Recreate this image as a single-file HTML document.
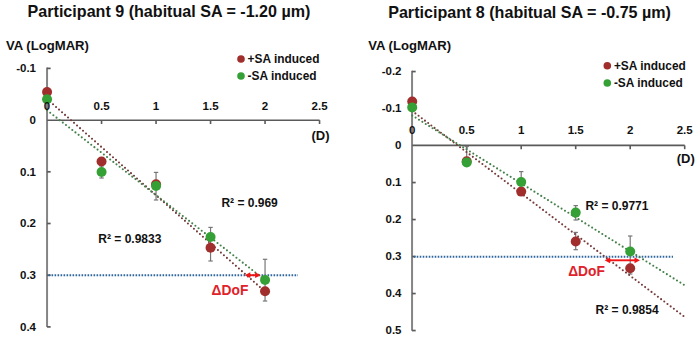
<!DOCTYPE html>
<html><head><meta charset="utf-8"><style>
html,body{margin:0;padding:0;background:#fff;}
svg{display:block;}
text{font-family:"Liberation Sans",sans-serif;font-weight:bold;}
</style></head><body>
<svg width="700" height="340" viewBox="0 0 700 340">
<rect width="700" height="340" fill="#fff"/>
<line x1="47.05" y1="67.6" x2="47.05" y2="327.1" stroke="#858585" stroke-width="2" />
<line x1="47.05" y1="120.2" x2="319.55" y2="120.2" stroke="#5a5a5a" stroke-width="1.6" />
<line x1="47.05" y1="68.39999999999999" x2="50.65" y2="68.39999999999999" stroke="#5a5a5a" stroke-width="1.7" />
<line x1="47.05" y1="171.8" x2="50.65" y2="171.8" stroke="#5a5a5a" stroke-width="1.7" />
<line x1="47.05" y1="223.5" x2="50.65" y2="223.5" stroke="#5a5a5a" stroke-width="1.7" />
<line x1="47.05" y1="275.2" x2="50.65" y2="275.2" stroke="#5a5a5a" stroke-width="1.7" />
<line x1="47.05" y1="326.90000000000003" x2="50.65" y2="326.90000000000003" stroke="#5a5a5a" stroke-width="1.7" />
<line x1="101.55" y1="120.2" x2="101.55" y2="124" stroke="#5a5a5a" stroke-width="1.6" />
<line x1="156.05" y1="120.2" x2="156.05" y2="124" stroke="#5a5a5a" stroke-width="1.6" />
<line x1="210.55" y1="120.2" x2="210.55" y2="124" stroke="#5a5a5a" stroke-width="1.6" />
<line x1="265.05" y1="120.2" x2="265.05" y2="124" stroke="#5a5a5a" stroke-width="1.6" />
<line x1="319.55" y1="120.2" x2="319.55" y2="124" stroke="#5a5a5a" stroke-width="1.6" />
<line x1="48.55" y1="275.2" x2="298" y2="275.2" stroke="#2d659c" stroke-width="2" stroke-dasharray="1.6 1.4"/>
<line x1="101.55" y1="166" x2="101.55" y2="178" stroke="#777777" stroke-width="1.2" />
<line x1="99.35" y1="166" x2="103.75" y2="166" stroke="#777777" stroke-width="1.2" />
<line x1="99.35" y1="178" x2="103.75" y2="178" stroke="#777777" stroke-width="1.2" />
<line x1="156.05" y1="172.4" x2="156.05" y2="200" stroke="#777777" stroke-width="1.2" />
<line x1="153.85000000000002" y1="172.4" x2="158.25" y2="172.4" stroke="#777777" stroke-width="1.2" />
<line x1="153.85000000000002" y1="200" x2="158.25" y2="200" stroke="#777777" stroke-width="1.2" />
<line x1="210.55" y1="227.4" x2="210.55" y2="261" stroke="#777777" stroke-width="1.2" />
<line x1="208.35000000000002" y1="227.4" x2="212.75" y2="227.4" stroke="#777777" stroke-width="1.2" />
<line x1="208.35000000000002" y1="261" x2="212.75" y2="261" stroke="#777777" stroke-width="1.2" />
<line x1="265.05" y1="259.3" x2="265.05" y2="301" stroke="#777777" stroke-width="1.2" />
<line x1="262.85" y1="259.3" x2="267.25" y2="259.3" stroke="#777777" stroke-width="1.2" />
<line x1="262.85" y1="301" x2="267.25" y2="301" stroke="#777777" stroke-width="1.2" />
<line x1="47.05" y1="99.0" x2="265.05" y2="291.6" stroke="#763c3c" stroke-width="2.1" stroke-dasharray="0 4" stroke-linecap="round"/>
<line x1="47.05" y1="110.3" x2="265.05" y2="280" stroke="#44804a" stroke-width="2.1" stroke-dasharray="0 4" stroke-linecap="round"/>
<circle cx="47.05" cy="92.0" r="5" fill="#a02e2c"/>
<circle cx="101.55" cy="161.5" r="5" fill="#a02e2c"/>
<circle cx="156.05" cy="184.3" r="5" fill="#a02e2c"/>
<circle cx="210.55" cy="247.8" r="5" fill="#a02e2c"/>
<circle cx="265.05" cy="291.3" r="5" fill="#a02e2c"/>
<circle cx="47.05" cy="99.3" r="5" fill="#35a035"/>
<circle cx="101.55" cy="172" r="5" fill="#35a035"/>
<circle cx="156.05" cy="186" r="5" fill="#35a035"/>
<circle cx="210.55" cy="237" r="5" fill="#35a035"/>
<circle cx="265.05" cy="280" r="5" fill="#35a035"/>
<circle cx="241" cy="59" r="3.8" fill="#a02e2c"/>
<circle cx="241" cy="76" r="3.8" fill="#35a035"/>
<line x1="247.8" y1="275.2" x2="257.6" y2="275.2" stroke="#f01414" stroke-width="1.9" />
<path d="M244.8 275.2 L250.3 272.3 L250.3 278.09999999999997 Z" fill="#f01414"/>
<path d="M260.6 275.2 L255.10000000000002 272.3 L255.10000000000002 278.09999999999997 Z" fill="#f01414"/>
<line x1="412.05" y1="70.75" x2="412.05" y2="330.75" stroke="#858585" stroke-width="2" />
<line x1="412.2" y1="145.4" x2="684.7" y2="145.4" stroke="#5a5a5a" stroke-width="1.6" />
<line x1="412.05" y1="71.55" x2="415.7" y2="71.55" stroke="#5a5a5a" stroke-width="1.7" />
<line x1="412.05" y1="108.55" x2="415.7" y2="108.55" stroke="#5a5a5a" stroke-width="1.7" />
<line x1="412.05" y1="182.55" x2="415.7" y2="182.55" stroke="#5a5a5a" stroke-width="1.7" />
<line x1="412.05" y1="219.55" x2="415.7" y2="219.55" stroke="#5a5a5a" stroke-width="1.7" />
<line x1="412.05" y1="256.55" x2="415.7" y2="256.55" stroke="#5a5a5a" stroke-width="1.7" />
<line x1="412.05" y1="293.55" x2="415.7" y2="293.55" stroke="#5a5a5a" stroke-width="1.7" />
<line x1="412.05" y1="330.55" x2="415.7" y2="330.55" stroke="#5a5a5a" stroke-width="1.7" />
<line x1="466.7" y1="145.4" x2="466.7" y2="149.2" stroke="#5a5a5a" stroke-width="1.6" />
<line x1="521.2" y1="145.4" x2="521.2" y2="149.2" stroke="#5a5a5a" stroke-width="1.6" />
<line x1="575.7" y1="145.4" x2="575.7" y2="149.2" stroke="#5a5a5a" stroke-width="1.6" />
<line x1="630.2" y1="145.4" x2="630.2" y2="149.2" stroke="#5a5a5a" stroke-width="1.6" />
<line x1="684.7" y1="145.4" x2="684.7" y2="149.2" stroke="#5a5a5a" stroke-width="1.6" />
<line x1="413.7" y1="256.8" x2="673" y2="256.8" stroke="#2d659c" stroke-width="2" stroke-dasharray="1.6 1.4"/>
<line x1="466.7" y1="146.5" x2="466.7" y2="165" stroke="#777777" stroke-width="1.2" />
<line x1="464.5" y1="146.5" x2="468.9" y2="146.5" stroke="#777777" stroke-width="1.2" />
<line x1="464.5" y1="165" x2="468.9" y2="165" stroke="#777777" stroke-width="1.2" />
<line x1="521.2" y1="171.6" x2="521.2" y2="190" stroke="#777777" stroke-width="1.2" />
<line x1="519.0" y1="171.6" x2="523.4000000000001" y2="171.6" stroke="#777777" stroke-width="1.2" />
<line x1="519.0" y1="190" x2="523.4000000000001" y2="190" stroke="#777777" stroke-width="1.2" />
<line x1="575.7" y1="205.6" x2="575.7" y2="220" stroke="#777777" stroke-width="1.2" />
<line x1="573.5" y1="205.6" x2="577.9000000000001" y2="205.6" stroke="#777777" stroke-width="1.2" />
<line x1="573.5" y1="220" x2="577.9000000000001" y2="220" stroke="#777777" stroke-width="1.2" />
<line x1="575.7" y1="232.4" x2="575.7" y2="249.7" stroke="#777777" stroke-width="1.2" />
<line x1="573.5" y1="232.4" x2="577.9000000000001" y2="232.4" stroke="#777777" stroke-width="1.2" />
<line x1="573.5" y1="249.7" x2="577.9000000000001" y2="249.7" stroke="#777777" stroke-width="1.2" />
<line x1="630.2" y1="236" x2="630.2" y2="274" stroke="#777777" stroke-width="1.2" />
<line x1="628.0" y1="236" x2="632.4000000000001" y2="236" stroke="#777777" stroke-width="1.2" />
<line x1="628.0" y1="274" x2="632.4000000000001" y2="274" stroke="#777777" stroke-width="1.2" />
<line x1="412.2" y1="111" x2="684.7" y2="317" stroke="#763c3c" stroke-width="2.1" stroke-dasharray="0 4" stroke-linecap="round"/>
<line x1="412.2" y1="115.5" x2="684.7" y2="285.3" stroke="#44804a" stroke-width="2.1" stroke-dasharray="0 4" stroke-linecap="round"/>
<circle cx="412.2" cy="101.5" r="5" fill="#a02e2c"/>
<circle cx="466.7" cy="161.3" r="5" fill="#a02e2c"/>
<circle cx="521.2" cy="191.6" r="5" fill="#a02e2c"/>
<circle cx="575.7" cy="241.5" r="5" fill="#a02e2c"/>
<circle cx="630.2" cy="268.2" r="5" fill="#a02e2c"/>
<circle cx="412.2" cy="107.4" r="5" fill="#35a035"/>
<circle cx="466.7" cy="162.4" r="5" fill="#35a035"/>
<circle cx="521.2" cy="182" r="5" fill="#35a035"/>
<circle cx="575.7" cy="212.6" r="5" fill="#35a035"/>
<circle cx="630.2" cy="251.5" r="5" fill="#35a035"/>
<circle cx="607.3" cy="65.7" r="3.8" fill="#a02e2c"/>
<circle cx="607.3" cy="83" r="3.8" fill="#35a035"/>
<line x1="607.6" y1="260.3" x2="637" y2="260.3" stroke="#f01414" stroke-width="1.9" />
<path d="M604.6 260.3 L610.1 257.40000000000003 L610.1 263.2 Z" fill="#f01414"/>
<path d="M640 260.3 L634.5 257.40000000000003 L634.5 263.2 Z" fill="#f01414"/>
<text x="27.6" y="17" font-size="16.1" text-anchor="start" fill="#111111" >Participant 9 (habitual SA = -1.20 µm)</text>
<text x="6" y="49.8" font-size="13.1" text-anchor="start" fill="#111111" >VA (LogMAR)</text>
<text x="36" y="72.3" font-size="11.5" text-anchor="end" fill="#111111" >-0.1</text>
<text x="36" y="124.0" font-size="11.5" text-anchor="end" fill="#111111" >0</text>
<text x="36" y="175.7" font-size="11.5" text-anchor="end" fill="#111111" >0.1</text>
<text x="36" y="227.39999999999998" font-size="11.5" text-anchor="end" fill="#111111" >0.2</text>
<text x="36" y="279.09999999999997" font-size="11.5" text-anchor="end" fill="#111111" >0.3</text>
<text x="36" y="330.8" font-size="11.5" text-anchor="end" fill="#111111" >0.4</text>
<text x="47.05" y="109.7" font-size="11.5" text-anchor="middle" fill="#111111" >0</text>
<text x="101.55" y="109.7" font-size="11.5" text-anchor="middle" fill="#111111" >0.5</text>
<text x="156.05" y="109.7" font-size="11.5" text-anchor="middle" fill="#111111" >1</text>
<text x="210.55" y="109.7" font-size="11.5" text-anchor="middle" fill="#111111" >1.5</text>
<text x="265.05" y="109.7" font-size="11.5" text-anchor="middle" fill="#111111" >2</text>
<text x="319.55" y="109.7" font-size="11.5" text-anchor="middle" fill="#111111" >2.5</text>
<text x="320.55" y="139.5" font-size="13" text-anchor="middle" fill="#111111" >(D)</text>
<text x="247.6" y="63" font-size="11.9" text-anchor="start" fill="#111111" >+SA induced</text>
<text x="247.6" y="80" font-size="11.9" text-anchor="start" fill="#111111" >-SA induced</text>
<text x="221.4" y="206.7" font-size="12" text-anchor="start" fill="#111111" >R² = 0.969</text>
<text x="98.3" y="243.4" font-size="12" text-anchor="start" fill="#111111" >R² = 0.9833</text>
<text x="211.6" y="294.7" font-size="13.8" text-anchor="start" fill="#e0222a" >ΔDoF</text>
<text x="388.2" y="18" font-size="16.1" text-anchor="start" fill="#111111" >Participant 8 (habitual SA = -0.75 µm)</text>
<text x="368.2" y="49.8" font-size="13.1" text-anchor="start" fill="#111111" >VA (LogMAR)</text>
<text x="401.5" y="75.05" font-size="11.5" text-anchor="end" fill="#111111" >-0.2</text>
<text x="401.5" y="112.05" font-size="11.5" text-anchor="end" fill="#111111" >-0.1</text>
<text x="401.5" y="149.05" font-size="11.5" text-anchor="end" fill="#111111" >0</text>
<text x="401.5" y="186.05" font-size="11.5" text-anchor="end" fill="#111111" >0.1</text>
<text x="401.5" y="223.05" font-size="11.5" text-anchor="end" fill="#111111" >0.2</text>
<text x="401.5" y="260.05" font-size="11.5" text-anchor="end" fill="#111111" >0.3</text>
<text x="401.5" y="297.05" font-size="11.5" text-anchor="end" fill="#111111" >0.4</text>
<text x="401.5" y="334.05" font-size="11.5" text-anchor="end" fill="#111111" >0.5</text>
<text x="412.2" y="134.1" font-size="11.5" text-anchor="middle" fill="#111111" >0</text>
<text x="466.7" y="134.1" font-size="11.5" text-anchor="middle" fill="#111111" >0.5</text>
<text x="521.2" y="134.1" font-size="11.5" text-anchor="middle" fill="#111111" >1</text>
<text x="575.7" y="134.1" font-size="11.5" text-anchor="middle" fill="#111111" >1.5</text>
<text x="630.2" y="134.1" font-size="11.5" text-anchor="middle" fill="#111111" >2</text>
<text x="684.7" y="134.1" font-size="11.5" text-anchor="middle" fill="#111111" >2.5</text>
<text x="685.7" y="163" font-size="13" text-anchor="middle" fill="#111111" >(D)</text>
<text x="613.9" y="69.6" font-size="11.9" text-anchor="start" fill="#111111" >+SA induced</text>
<text x="613.9" y="86.5" font-size="11.9" text-anchor="start" fill="#111111" >-SA induced</text>
<text x="585.4" y="210.4" font-size="12" text-anchor="start" fill="#111111" >R² = 0.9771</text>
<text x="595.6" y="314.2" font-size="12" text-anchor="start" fill="#111111" >R² = 0.9854</text>
<text x="568.2" y="276.3" font-size="13.8" text-anchor="start" fill="#e0222a" >ΔDoF</text>
</svg>
</body></html>
